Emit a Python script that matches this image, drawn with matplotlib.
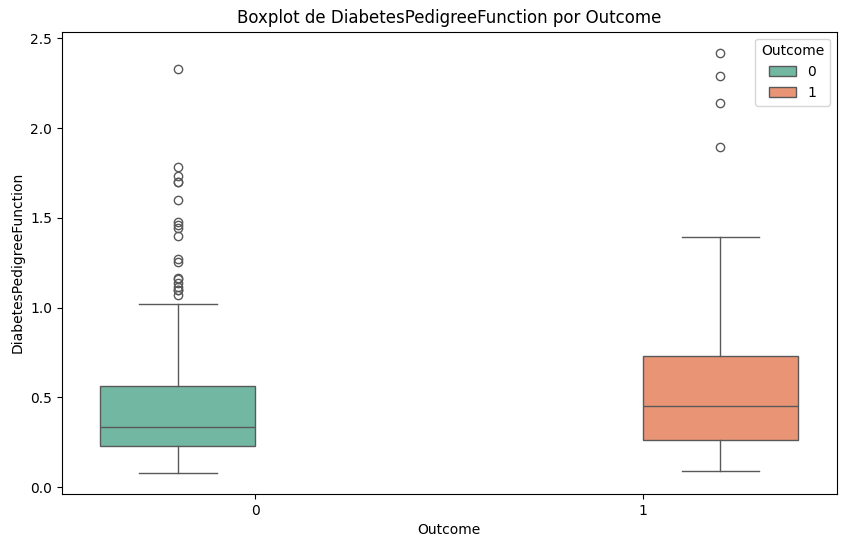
import matplotlib
matplotlib.use("Agg")
import matplotlib.pyplot as plt
from matplotlib.patches import Patch

# box statistics (DiabetesPedigreeFunction by Outcome)
outcomes = ["0", "1"]
q1 = [0.2295, 0.2625]
medians = [0.336, 0.449]
q3 = [0.562, 0.728]
whisk_lo = [0.078, 0.088]
whisk_hi = [1.022, 1.394]
fliers_0 = [1.072, 1.095, 1.10, 1.114, 1.138, 1.159, 1.162, 1.251, 1.268,
            1.40, 1.441, 1.461, 1.476, 1.60, 1.698, 1.699, 1.731, 1.781, 2.329]
fliers_1 = [1.893, 2.137, 2.288, 2.42]
fliers = [fliers_0, fliers_1]

colors = ["#72b7a1", "#e99575"]
line_col = "#595959"


def main():
    fig = plt.figure(figsize=(8.46, 5.47), dpi=100)
    ax = fig.add_axes([61.7 / 846, 53 / 547, 775 / 846, 462.3 / 547])

    stats = []
    for i in range(len(outcomes)):
        stats.append(dict(q1=q1[i], med=medians[i], q3=q3[i],
                          whislo=whisk_lo[i], whishi=whisk_hi[i],
                          fliers=fliers[i], label=outcomes[i]))

    # hue dodge: each outcome box sits 0.2 off its tick
    positions = [i - 0.2 if i == 0 else i + 0.2 for i in range(len(outcomes))]
    lw = 1.0
    res = ax.bxp(stats, positions=positions, widths=0.4, patch_artist=True,
                 manage_ticks=False,
                 boxprops=dict(edgecolor=line_col, linewidth=lw),
                 medianprops=dict(color=line_col, linewidth=lw),
                 whiskerprops=dict(color=line_col, linewidth=lw),
                 capprops=dict(color=line_col, linewidth=lw),
                 capwidths=0.2,
                 flierprops=dict(marker="o", markerfacecolor="none",
                                 markeredgecolor=line_col, markersize=6,
                                 markeredgewidth=1.0, linestyle="none"))
    for patch, c in zip(res["boxes"], colors):
        patch.set_facecolor(c)

    ax.set_xlim(-0.5, 1.5)
    ax.set_xticks([0, 1])
    ax.set_xticklabels(outcomes)
    ax.set_yticks([0.0, 0.5, 1.0, 1.5, 2.0, 2.5])
    ax.set_ylim(-0.039, 2.537)

    ax.set_title("Boxplot de DiabetesPedigreeFunction por Outcome")
    ax.set_xlabel("Outcome")
    ax.set_ylabel("DiabetesPedigreeFunction")

    handles = [Patch(facecolor=c, edgecolor=line_col, linewidth=lw, label=o)
               for c, o in zip(colors, outcomes)]
    ax.legend(handles=handles, title="Outcome", loc="upper right")

    fig.savefig("out.png", dpi=100)


main()
